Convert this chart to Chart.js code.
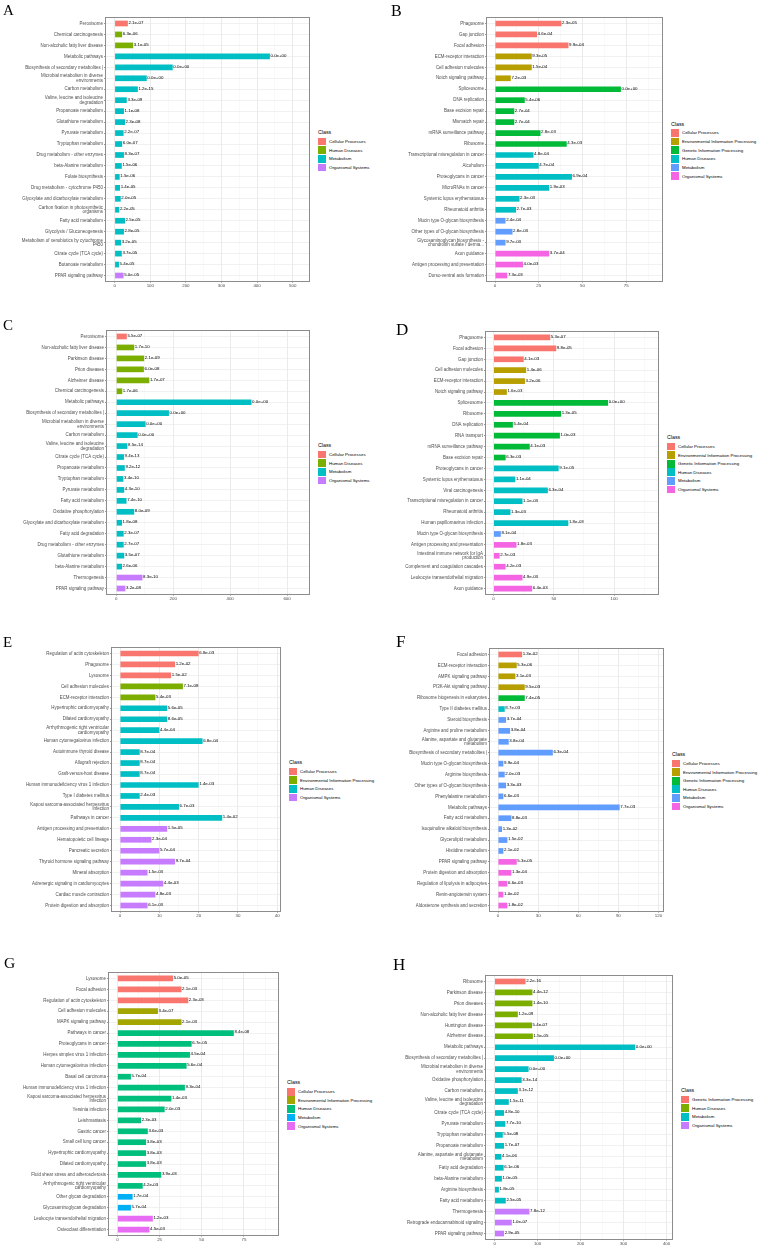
<!DOCTYPE html>
<html>
<head>
<meta charset="utf-8">
<script src="https://cdn.jsdelivr.net/npm/chart.js@4.4.1/dist/chart.umd.min.js"></script>
<style>
  body { margin:0; background:#fff; width:760px; height:1249px; position:relative; overflow:hidden;
         font-family:"Liberation Sans", Arial, sans-serif; }
  canvas { position:absolute; }
  .tag { position:absolute; font-family:"Liberation Serif","Times New Roman",serif; color:#000; }
  .legend { position:absolute; color:#000; white-space:nowrap; }
  .legend .ttl { font-size:5.3px; height:10px; line-height:10px; }
  .legend .it { height:8.66px; display:flex; align-items:center; font-size:4.4px; }
  .legend .key { width:7.7px; height:7.7px; margin-right:3.3px; flex:none; }
</style>
</head>
<body>
<script>
var CP = 'Cellular Processes';
var EIP = 'Environmental Information Processing';
var GIP = 'Genetic Information Processing';
var HD = 'Human Diseases';
var MET = 'Metabolism';
var OS = 'Organismal Systems';

// ---- A
var aPathways = ['Peroxisome', 'Chemical carcinogenesis', 'Non-alcoholic fatty liver disease', 'Metabolic pathways',
  'Biosynthesis of secondary metabolites |', 'Microbial metabolism in diverse\nenvironments', 'Carbon metabolism',
  'Valine, leucine and isoleucine\ndegradation', 'Propanoate metabolism', 'Glutathione metabolism', 'Pyruvate metabolism',
  'Tryptophan metabolism', 'Drug metabolism - other enzymes', 'beta-Alanine metabolism', 'Folate biosynthesis',
  'Drug metabolism - cytochrome P450', 'Glyoxylate and dicarboxylate metabolism', 'Carbon fixation in photosynthetic\norganisms',
  'Fatty acid metabolism', 'Glycolysis / Gluconeogenesis', 'Metabolism of xenobiotics by cytochrome\nP450',
  'Citrate cycle (TCA cycle)', 'Butanoate metabolism', 'PPAR signaling pathway'];
var aCounts = [37, 21, 52, 436, 163, 90, 65, 34, 26, 29, 25, 21, 26, 20, 14, 15, 17, 13, 29, 26, 18, 20, 12, 25];
var aPvalues = ['2.1e-07', '6.3e-06', '3.1e-05', '0.0e+00', '0.0e+00', '0.0e+00', '1.2e-15', '3.3e-09', '1.1e-08', '2.3e-08',
  '2.2e-07', '6.0e-07', '8.3e-07', '1.5e-06', '1.5e-06', '1.4e-05', '2.0e-05', '2.2e-05', '2.5e-05', '2.8e-05', '3.2e-05',
  '3.7e-05', '5.4e-05', '5.0e-05'];
var aClass = [CP, HD, HD, MET, MET, MET, MET, MET, MET, MET, MET, MET, MET, MET, MET, MET, MET, MET, MET, MET, MET, MET, MET, OS];
var aTicks = [0, 100, 200, 300, 400, 500];

// ---- B
var bPathways = ['Phagosome', 'Gap junction', 'Focal adhesion', 'ECM-receptor interaction', 'Cell adhesion molecules',
  'Notch signaling pathway', 'Spliceosome', 'DNA replication', 'Base excision repair', 'Mismatch repair',
  'mRNA surveillance pathway', 'Ribosome', 'Transcriptional misregulation in cancer', 'Alcoholism', 'Proteoglycans in cancer',
  'MicroRNAs in cancer', 'Systemic lupus erythematosus', 'Rheumatoid arthritis', 'Mucin type O-glycan biosynthesis',
  'Other types of O-glycan biosynthesis', 'Glycosaminoglycan biosynthesis -\nchondroitin sulfate / derma...', 'Axon guidance',
  'Antigen processing and presentation', 'Dorso-ventral axis formation'];
var bCounts = [38, 24, 42, 21, 21, 9, 72, 17, 11, 11, 26, 41, 22, 25, 44, 31, 14, 12, 6, 10, 6, 31, 16, 7];
var bPvalues = ['2.3e-05', '4.6e-04', '9.9e-04', '9.3e-05', '1.5e-04', '7.2e-03', '0.0e+00', '5.4e-06', '2.7e-04', '2.7e-04',
  '2.8e-03', '4.3e-03', '4.8e-04', '4.7e-04', '6.9e-04', '1.9e-03', '2.3e-03', '2.7e-03', '2.4e-04', '2.8e-03', '9.7e-03',
  '3.7e-04', '4.0e-03', '7.3e-03'];
var bClass = [CP, CP, CP, EIP, EIP, EIP, GIP, GIP, GIP, GIP, GIP, GIP, HD, HD, HD, HD, HD, HD, MET, MET, MET, OS, OS, OS];
var bTicks = [0, 25, 50, 75];

// ---- C
var cPathways = ['Peroxisome', 'Non-alcoholic fatty liver disease', 'Parkinson disease', 'Prion diseases', 'Alzheimer disease',
  'Chemical carcinogenesis', 'Metabolic pathways', 'Biosynthesis of secondary metabolites |',
  'Microbial metabolism in diverse\nenvironments', 'Carbon metabolism', 'Valine, leucine and isoleucine\ndegradation',
  'Citrate cycle (TCA cycle)', 'Propanoate metabolism', 'Tryptophan metabolism', 'Pyruvate metabolism', 'Fatty acid metabolism',
  'Oxidative phosphorylation', 'Glyoxylate and dicarboxylate metabolism', 'Fatty acid degradation',
  'Drug metabolism - other enzymes', 'Glutathione metabolism', 'beta-Alanine metabolism', 'Thermogenesis', 'PPAR signaling pathway'];
var cCounts = [37, 63, 98, 97, 116, 21, 475, 185, 103, 75, 39, 27, 30, 25, 28, 36, 63, 20, 26, 26, 28, 20, 92, 32];
var cPvalues = ['5.5e-07', '1.7e-10', '2.1e-09', '6.0e-08', '1.7e-07', '1.7e-06', '0.0e+00', '0.0e+00', '0.0e+00', '0.0e+00',
  '8.5e-14', '9.4e-13', '9.2e-12', '3.4e-10', '4.3e-10', '7.4e-10', '8.0e-09', '1.8e-08', '2.3e-07', '2.7e-07', '3.5e-07',
  '2.6e-06', '8.3e-10', '3.2e-08'];
var cClass = [CP, HD, HD, HD, HD, HD, MET, MET, MET, MET, MET, MET, MET, MET, MET, MET, MET, MET, MET, MET, MET, MET, OS, OS];
var cTicks = [0, 200, 400, 600];

// ---- D
var dPathways = ['Phagosome', 'Focal adhesion', 'Gap junction', 'Cell adhesion molecules', 'ECM-receptor interaction',
  'Notch signaling pathway', 'Spliceosome', 'Ribosome', 'DNA replication', 'RNA transport', 'mRNA surveillance pathway',
  'Base excision repair', 'Proteoglycans in cancer', 'Systemic lupus erythematosus', 'Viral carcinogenesis',
  'Transcriptional misregulation in cancer', 'Rheumatoid arthritis', 'Human papillomavirus infection',
  'Mucin type O-glycan biosynthesis', 'Antigen processing and presentation', 'Intestinal immune network for IgA\nproduction',
  'Complement and coagulation cascades', 'Leukocyte transendothelial migration', 'Axon guidance'];
var dCounts = [47, 52, 25, 27, 26, 11, 95, 56, 16, 55, 30, 10, 54, 18, 45, 24, 14, 62, 6, 19, 5, 10, 24, 32];
var dPvalues = ['5.3e-07', '9.8e-05', '4.1e-03', '1.4e-06', '3.2e-06', '1.6e-03', '0.0e+00', '1.3e-05', '5.4e-04', '1.0e-03',
  '4.1e-03', '6.3e-03', '9.1e-05', '1.1e-04', '6.3e-04', '1.1e-03', '1.3e-03', '1.8e-03', '8.1e-04', '1.8e-03', '2.7e-03',
  '4.2e-03', '4.9e-03', '6.4e-03'];
var dClass = [CP, CP, CP, EIP, EIP, EIP, GIP, GIP, GIP, GIP, GIP, GIP, HD, HD, HD, HD, HD, HD, MET, OS, OS, OS, OS, OS];
var dTicks = [0, 50, 100];

// ---- E
var ePathways = ['Regulation of actin cytoskeleton', 'Phagosome', 'Lysosome', 'Cell adhesion molecules', 'ECM-receptor interaction',
  'Hypertrophic cardiomyopathy', 'Dilated cardiomyopathy', 'Arrhythmogenic right ventricular\ncardiomyopathy',
  'Human cytomegalovirus infection', 'Autoimmune thyroid disease', 'Allograft rejection', 'Graft-versus-host disease',
  'Human immunodeficiency virus 1 infection', 'Type I diabetes mellitus', 'Kaposi sarcoma-associated herpesvirus\ninfection',
  'Pathways in cancer', 'Antigen processing and presentation', 'Hematopoietic cell lineage', 'Pancreatic secretion',
  'Thyroid hormone signaling pathway', 'Mineral absorption', 'Adrenergic signaling in cardiomyocytes',
  'Cardiac muscle contraction', 'Protein digestion and absorption'];
var eCounts = [20, 14, 13, 16, 9, 12, 12, 10, 21, 5, 5, 5, 20, 5, 15, 26, 12, 8, 10, 14, 7, 11, 9, 7];
var ePvalues = ['6.8e-03', '1.2e-02', '1.5e-02', '7.1e-08', '5.4e-03', '5.6e-05', '8.6e-05', '4.4e-04', '6.8e-04', '8.7e-04',
  '8.7e-04', '8.7e-04', '1.4e-03', '2.4e-03', '6.7e-03', '1.4e-02', '1.5e-05', '2.3e-04', '5.7e-04', '9.7e-04', '1.5e-03',
  '4.4e-03', '4.8e-03', '6.1e-03'];
var eClass = [CP, CP, CP, EIP, EIP, HD, HD, HD, HD, HD, HD, HD, HD, HD, HD, HD, OS, OS, OS, OS, OS, OS, OS, OS];
var eTicks = [0, 10, 20, 30, 40];

// ---- F
var fPathways = ['Focal adhesion', 'ECM-receptor interaction', 'AMPK signaling pathway', 'PI3K-Akt signaling pathway',
  'Ribosome biogenesis in eukaryotes', 'Type II diabetes mellitus', 'Steroid biosynthesis', 'Arginine and proline metabolism',
  'Alanine, aspartate and glutamate\nmetabolism', 'Biosynthesis of secondary metabolites |', 'Mucin type O-glycan biosynthesis',
  'Arginine biosynthesis', 'Other types of O-glycan biosynthesis', 'Phenylalanine metabolism', 'Metabolic pathways',
  'Fatty acid metabolism', 'Isoquinoline alkaloid biosynthesis', 'Glycerolipid metabolism', 'Histidine metabolism',
  'PPAR signaling pathway', 'Protein digestion and absorption', 'Regulation of lipolysis in adipocytes',
  'Renin-angiotensin system', 'Aldosterone synthesis and secretion'];
var fCounts = [18, 14, 13, 20, 20, 5, 6, 9, 8, 41, 4, 5, 6, 4, 91, 10, 3, 7, 4, 14, 10, 7, 4, 7];
var fPvalues = ['1.3e-02', '5.3e-06', '3.1e-03', '9.5e-03', '7.4e-05', '8.7e-03', '3.7e-04', '3.8e-04', '3.8e-04', '6.3e-04',
  '9.9e-04', '2.0e-03', '3.3e-03', '6.6e-03', '7.7e-03', '8.8e-03', '1.3e-02', '1.5e-02', '2.1e-02', '5.3e-05', '1.3e-04',
  '6.6e-03', '1.0e-02', '1.8e-02'];
var fClass = [CP, EIP, EIP, EIP, GIP, HD, MET, MET, MET, MET, MET, MET, MET, MET, MET, MET, MET, MET, MET, OS, OS, OS, OS, OS];
var fTicks = [0, 30, 60, 90, 120];

// ---- G
var gPathways = ['Lysosome', 'Focal adhesion', 'Regulation of actin cytoskeleton', 'Cell adhesion molecules',
  'MAPK signaling pathway', 'Pathways in cancer', 'Proteoglycans in cancer', 'Herpes simplex virus 1 infection',
  'Human cytomegalovirus infection', 'Basal cell carcinoma', 'Human immunodeficiency virus 1 infection',
  'Kaposi sarcoma-associated herpesvirus\ninfection', 'Yersinia infection', 'Leishmaniasis', 'Gastric cancer',
  'Small cell lung cancer', 'Hypertrophic cardiomyopathy', 'Dilated cardiomyopathy', 'Fluid shear stress and atherosclerosis',
  'Arrhythmogenic right ventricular\ncardiomyopathy', 'Other glycan degradation', 'Glycosaminoglycan degradation',
  'Leukocyte transendothelial migration', 'Osteoclast differentiation'];
var gCounts = [33, 38, 42, 24, 38, 69, 44, 43, 41, 8, 40, 32, 28, 14, 18, 17, 17, 17, 26, 15, 9, 8, 21, 19];
var gPvalues = ['5.0e-05', '2.1e-03', '2.3e-03', '3.4e-07', '2.1e-03', '8.4e-08', '6.7e-05', '4.5e-04', '5.6e-04', '5.7e-04',
  '9.3e-04', '1.4e-03', '2.0e-03', '2.3e-03', '3.6e-03', '3.8e-03', '3.8e-03', '3.8e-03', '3.9e-03', '4.2e-03', '1.7e-04',
  '5.7e-04', '1.2e-03', '4.5e-03'];
var gClass = [CP, CP, CP, EIP, EIP, HD, HD, HD, HD, HD, HD, HD, HD, HD, HD, HD, HD, HD, HD, HD, MET, MET, OS, OS];
var gTicks = [0, 25, 50, 75];

// ---- H
var hPathways = ['Ribosome', 'Parkinson disease', 'Prion diseases', 'Non-alcoholic fatty liver disease', 'Huntington disease',
  'Alzheimer disease', 'Metabolic pathways', 'Biosynthesis of secondary metabolites |',
  'Microbial metabolism in diverse\nenvironments', 'Oxidative phosphorylation', 'Carbon metabolism',
  'Valine, leucine and isoleucine\ndegradation', 'Citrate cycle (TCA cycle)', 'Pyruvate metabolism', 'Tryptophan metabolism',
  'Propanoate metabolism', 'Alanine, aspartate and glutamate\nmetabolism', 'Fatty acid degradation', 'beta-Alanine metabolism',
  'Arginine biosynthesis', 'Fatty acid metabolism', 'Thermogenesis', 'Retrograde endocannabinoid signaling',
  'PPAR signaling pathway'];
var hCounts = [72, 88, 88, 54, 87, 89, 327, 138, 79, 63, 54, 33, 22, 25, 19, 22, 16, 21, 17, 10, 26, 81, 40, 22];
var hPvalues = ['2.2e-16', '4.4e-12', '1.4e-10', '1.2e-09', '5.4e-07', '1.5e-05', '0.0e+00', '0.0e+00', '0.0e+00', '3.3e-14',
  '3.1e-12', '1.5e-11', '4.8e-10', '7.7e-10', '5.5e-08', '1.7e-07', '4.1e-06', '6.1e-06', '1.0e-05', '1.8e-05', '2.5e-05',
  '7.8e-12', '1.0e-07', '2.9e-05'];
var hClass = [GIP, HD, HD, HD, HD, HD, MET, MET, MET, MET, MET, MET, MET, MET, MET, MET, MET, MET, MET, MET, MET, OS, OS, OS];
var hTicks = [0, 100, 200, 300, 400];

// ggplot default hue palettes by number of classes
var palettes = {
  4: ['#F8766D', '#7CAE00', '#00BFC4', '#C77CFF'],
  5: ['#F8766D', '#A3A500', '#00BF7D', '#00B0F6', '#E76BF3'],
  6: ['#F8766D', '#B79F00', '#00BA38', '#00BFC4', '#619CFF', '#F564E3']
};

var FONT = '"Liberation Sans", Arial, sans-serif';

// frame = [left, top, right, bottom] of the panel border on the page
// tag = [left, top, font size] of the panel letter
var panels = [
  {tag: 'A', col: 0, tagAt: [3, 3.4, 15], frame: [106, 18, 309, 281], xmin: -24.4, xmax: 545.8,
   names: aPathways, counts: aCounts, pv: aPvalues, cls: aClass, classes: [CP, HD, MET, OS], ticks: aTicks},
  {tag: 'B', col: 380, tagAt: [391, 2.6, 16], frame: [487, 18, 662, 281], xmin: -4.6, xmax: 95.5,
   names: bPathways, counts: bCounts, pv: bPvalues, cls: bClass, classes: [CP, EIP, GIP, HD, MET, OS], ticks: bTicks},
  {tag: 'C', col: 0, tagAt: [3, 318.4, 15], frame: [107, 331, 309, 594], xmin: -32.6, xmax: 677,
   names: cPathways, counts: cCounts, pv: cPvalues, cls: cClass, classes: [CP, HD, MET, OS], ticks: cTicks},
  {tag: 'D', col: 380, tagAt: [396, 320.7, 17], frame: [486, 332, 658, 594], xmin: -6.3, xmax: 136.4,
   names: dPathways, counts: dCounts, pv: dPvalues, cls: dClass, classes: [CP, EIP, GIP, HD, MET, OS], ticks: dTicks},
  {tag: 'E', col: 0, tagAt: [3, 635.4, 15], frame: [112, 648, 280, 911], xmin: -2.04, xmax: 40.7,
   names: ePathways, counts: eCounts, pv: ePvalues, cls: eClass, classes: [CP, EIP, HD, OS], ticks: eTicks},
  {tag: 'F', col: 380, tagAt: [396, 632.7, 17], frame: [490, 649, 663, 911], xmin: -6, xmax: 123.4,
   names: fPathways, counts: fCounts, pv: fPvalues, cls: fClass, classes: [CP, EIP, GIP, HD, MET, OS], ticks: fTicks},
  {tag: 'G', col: 0, tagAt: [4, 955.2, 15.5], frame: [109, 973, 278, 1235], xmin: -5, xmax: 95.2,
   names: gPathways, counts: gCounts, pv: gPvalues, cls: gClass, classes: [CP, EIP, HD, MET, OS], ticks: gTicks},
  {tag: 'H', col: 380, tagAt: [393, 956.3, 17], frame: [486, 976, 672, 1239], xmin: -20, xmax: 412.6,
   names: hPathways, counts: hCounts, pv: hPvalues, cls: hClass, classes: [GIP, HD, MET, OS], ticks: hTicks}
];

function isMajor(v, step) {
  var r = v / step;
  return Math.abs(r - Math.round(r)) < 1e-6;
}

// p-value text at the end of every bar + panel border
function panelDecor(pv) {
  return {
    id: 'panelDecor',
    afterDatasetsDraw: function (chart) {
      var ctx = chart.ctx, ca = chart.chartArea;
      var bars = chart.getDatasetMeta(0).data;
      ctx.save();
      ctx.font = '4.4px ' + FONT;
      ctx.fillStyle = '#000';
      ctx.textAlign = 'left';
      ctx.textBaseline = 'middle';
      bars.forEach(function (bar, i) {
        ctx.fillText(pv[i], bar.x + 0.6, bar.y - 0.8);
      });
      ctx.strokeStyle = '#8c8c8c';
      ctx.lineWidth = 1;
      ctx.strokeRect(ca.left - 0.5, ca.top - 0.5, ca.right - ca.left + 1, ca.bottom - ca.top + 1);
      ctx.restore();
    }
  };
}

panels.forEach(function (p) {
  var L = p.frame[0], T = p.frame[1], R = p.frame[2], B = p.frame[3];
  var top = T - 4, w = R + 4 - p.col, h = (B - T) + 4 + 12;

  var cv = document.createElement('canvas');
  cv.width = w; cv.height = h;
  cv.style.left = p.col + 'px'; cv.style.top = top + 'px';
  cv.style.width = w + 'px'; cv.style.height = h + 'px';
  document.body.appendChild(cv);

  var pal = palettes[p.classes.length];
  var colors = p.cls.map(function (c) { return pal[p.classes.indexOf(c)]; });
  var step = p.ticks[1] - p.ticks[0];
  // majors plus ggplot-style minor breaks halfway between them
  var gridVals = [];
  p.ticks.forEach(function (t) {
    if (t >= p.xmin && t <= p.xmax) gridVals.push(t);
    if (t + step / 2 <= p.xmax) gridVals.push(t + step / 2);
  });

  new Chart(cv, {
    type: 'bar',
    data: {
      labels: p.names.map(function (s) { return s.split('\n'); }),
      datasets: [{
        data: p.counts,
        backgroundColor: colors,
        barPercentage: 0.52,
        categoryPercentage: 1
      }]
    },
    options: {
      indexAxis: 'y',
      responsive: false,
      animation: false,
      devicePixelRatio: 1,
      layout: { padding: { top: 4, right: 4, left: 0, bottom: 0 } },
      plugins: { legend: { display: false }, tooltip: { enabled: false } },
      scales: {
        x: {
          type: 'linear',
          min: p.xmin,
          max: p.xmax,
          afterBuildTicks: function (s) { s.ticks = gridVals.map(function (v) { return { value: v }; }); },
          afterFit: function (s) { s.height = 12; },
          border: { display: false },
          grid: {
            color: function (c) { return isMajor(c.tick.value, step) ? '#E6E6E6' : '#F2F2F2'; },
            lineWidth: function (c) { return isMajor(c.tick.value, step) ? 0.8 : 0.5; },
            tickLength: 1.5,
            tickColor: function (c) { return isMajor(c.tick.value, step) ? '#555' : 'rgba(0,0,0,0)'; }
          },
          ticks: {
            autoSkip: false,
            maxRotation: 0,
            padding: 0.5,
            color: '#4D4D4D',
            font: { family: FONT, size: 4.4 },
            callback: function (v) { return isMajor(v, step) ? String(v) : ''; }
          }
        },
        y: {
          afterFit: function (s) { s.width = L - p.col; },
          border: { display: false },
          grid: { offset: false, color: '#E8E8E8', lineWidth: 0.6, tickLength: 2, tickColor: '#555' },
          ticks: {
            autoSkip: false,
            padding: 1,
            color: '#4D4D4D',
            font: { family: FONT, size: 4.45, lineHeight: 1 }
          }
        }
      }
    },
    plugins: [panelDecor(p.pv)]
  });

  // legend on the right of the panel
  var lg = document.createElement('div');
  lg.className = 'legend';
  var hgt = 10 + p.classes.length * 8.66;
  lg.style.left = (R + 9) + 'px';
  lg.style.top = ((T + B) / 2 - hgt / 2) + 'px';
  var html = '<div class="ttl">Class</div>';
  p.classes.forEach(function (c, i) {
    html += '<div class="it"><span class="key" style="background:' + pal[i] + '"></span>' + c + '</div>';
  });
  lg.innerHTML = html;
  document.body.appendChild(lg);

  var tg = document.createElement('div');
  tg.className = 'tag';
  tg.textContent = p.tag;
  tg.style.left = p.tagAt[0] + 'px';
  tg.style.top = p.tagAt[1] + 'px';
  tg.style.fontSize = p.tagAt[2] + 'px';
  tg.style.lineHeight = p.tagAt[2] + 'px';
  document.body.appendChild(tg);
});
</script>
</body>
</html>
